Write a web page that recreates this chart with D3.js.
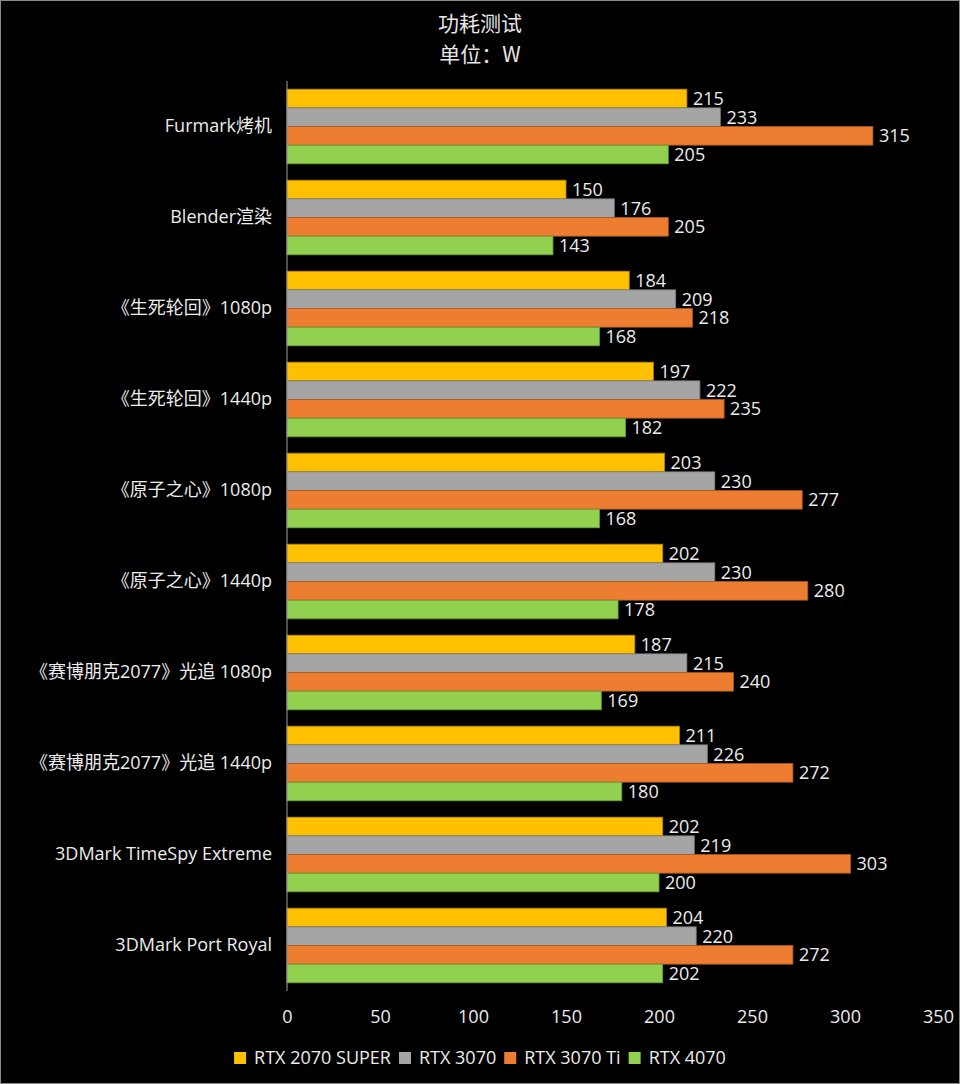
<!DOCTYPE html>
<html><head><meta charset="utf-8">
<script src="https://cdn.jsdelivr.net/npm/d3@7"></script>
<style>
html,body{margin:0;padding:0;background:#000;}
svg{display:block;}
</style></head>
<body>
<script>
const categories = ["Furmark烤机","Blender渲染","《生死轮回》1080p","《生死轮回》1440p","《原子之心》1080p","《原子之心》1440p","《赛博朋克2077》光追 1080p","《赛博朋克2077》光追 1440p","3DMark TimeSpy Extreme","3DMark Port Royal"];
const seriesNames = ["RTX 2070 SUPER","RTX 3070","RTX 3070 Ti","RTX 4070"];
const rtx2070super = [215,150,184,197,203,202,187,211,202,204];
const rtx3070      = [233,176,209,222,230,230,215,226,219,220];
const rtx3070ti    = [315,205,218,235,277,280,240,272,303,272];
const rtx4070      = [205,143,168,182,168,178,169,180,200,202];
const xTicks = [0,50,100,150,200,250,300,350];
const titleLines = ["功耗测试","单位：W"];

const colors = ["#FFC000","#A5A5A5","#ED7D31","#92D050"];
const strokes = ["#b38600","#7a7a7a","#a85620","#6a9a38"];
const seriesValues = [rtx2070super, rtx3070, rtx3070ti, rtx4070];

const W = 960, H = 1084;
const font = "'Open Sans','Noto Sans CJK SC',sans-serif";
const fs = 18;
const svg = d3.select("body").append("svg").attr("width", W).attr("height", H);
svg.append("rect").attr("x",0.5).attr("y",0.5).attr("width",W-1).attr("height",H-1)
  .attr("fill","#000").attr("stroke","#8a8a8a").attr("stroke-width",1);

// title
svg.selectAll("text.title").data(titleLines).enter().append("text")
  .attr("class","title")
  .attr("x", 480).attr("y", (d,i)=>31 + i*31)
  .attr("text-anchor","middle").attr("fill","#e6e6e6")
  .attr("font-family","'Noto Sans CJK SC',sans-serif").attr("font-size",21)
  .text(d=>d);

const x = d3.scaleLinear().domain([0,350]).range([287,938]);
const y = d3.scaleBand().domain(categories).range([81,991]).paddingInner(0.18).paddingOuter(0.09);
const yi = d3.scaleBand().domain(d3.range(4)).range([0, y.bandwidth()]);

const g = svg.append("g");
categories.forEach((c, ci) => {
  const gg = g.append("g").attr("transform", `translate(0,${y(c)})`);
  seriesValues.forEach((vals, si) => {
    gg.append("rect").attr("x", x(0)).attr("y", yi(si))
      .attr("width", x(vals[ci]) - x(0)).attr("height", yi.bandwidth())
      .attr("fill", colors[si]).attr("stroke", strokes[si]).attr("stroke-width", 0.8);
    gg.append("text").attr("x", x(vals[ci]) + 6).attr("y", yi(si) + yi.bandwidth()/2)
      .attr("dy","0.36em").attr("fill","#ececec").attr("font-family",font).attr("font-size",fs)
      .text(vals[ci]);
  });
});

// y axis
const yAxis = svg.append("g").attr("transform","translate(287,0)")
  .call(d3.axisLeft(y).tickSize(0).tickPadding(15));
yAxis.select(".domain").attr("stroke","#a0a0a0").attr("d","M0,81V991");
yAxis.selectAll("text").attr("fill","#ececec").attr("font-family",font).attr("font-size",fs);

// x axis labels
const xAxis = svg.append("g").attr("transform","translate(0,1002)")
  .call(d3.axisBottom(x).tickValues(xTicks).tickSize(0).tickPadding(8));
xAxis.select(".domain").remove();
xAxis.selectAll("text").attr("fill","#ececec").attr("font-family",font).attr("font-size",fs);

// legend
const leg = svg.append("g");
const items = leg.selectAll("g").data(seriesNames).enter().append("g");
items.append("rect").attr("width",12).attr("height",12).attr("y",-6)
  .attr("fill",(d,i)=>colors[i]);
items.append("text").attr("x",20).attr("dy","0.36em").attr("fill","#ececec")
  .attr("font-family",font).attr("font-size",fs).text(d=>d);
let off = 0; const offs = [];
items.each(function(d,i){ offs.push(off); off += 20 + this.querySelector("text").getComputedTextLength() + 8; });
const total = off - 8;
const start = 480 - total/2;
items.attr("transform",(d,i)=>`translate(${start+offs[i]},1058)`);
</script>
</body></html>
